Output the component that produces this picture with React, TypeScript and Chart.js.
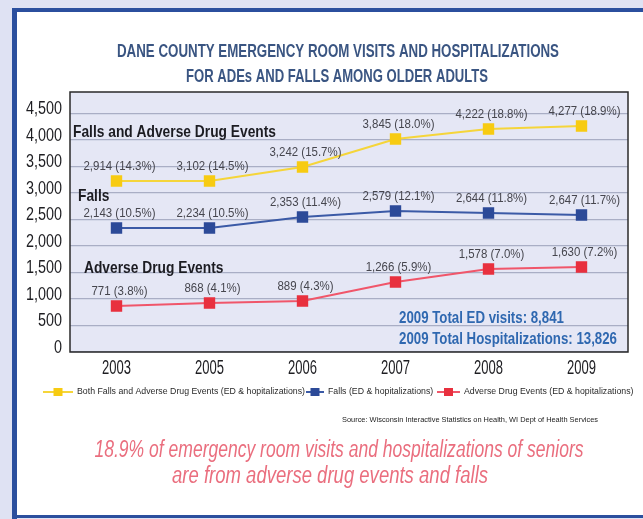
import React, { useEffect, useRef } from "react";
import { Chart, registerables } from "chart.js";

Chart.register(...registerables);

const years = ["2003", "2005", "2006", "2007", "2008", "2009"];
// plotted positions as drawn in the picture
const bothValues = [3223, 3223, 3487, 4014, 4203, 4259];
const fallsValues = [2337, 2337, 2544, 2657, 2620, 2582];
const adeValues = [867, 923, 961, 1319, 1564, 1602];
// printed labels
const bothLabels = ["2,914 (14.3%)", "3,102 (14.5%)", "3,242 (15.7%)", "3,845 (18.0%)", "4,222 (18.8%)", "4,277 (18.9%)"];
const fallsLabels = ["2,143 (10.5%)", "2,234 (10.5%)", "2,353 (11.4%)", "2,579 (12.1%)", "2,644 (11.8%)", "2,647 (11.7%)"];
const adeLabels = ["771 (3.8%)", "868 (4.1%)", "889 (4.3%)", "1,266 (5.9%)", "1,578 (7.0%)", "1,630 (7.2%)"];
const seriesNames = [
  "Both Falls and Adverse Drug Events (ED & hopitalizations)",
  "Falls (ED & hopitalizations)",
  "Adverse Drug Events (ED & hopitalizations)",
];
const yTickValues = [0, 500, 1000, 1500, 2000, 2500, 3000, 3500, 4000, 4500];
const yMax = 4900;
const titleLines = [
  "DANE COUNTY EMERGENCY ROOM VISITS AND HOSPITALIZATIONS",
  "FOR ADEs AND FALLS AMONG OLDER ADULTS",
];
const footerLines = [
  "18.9% of emergency room visits and hospitalizations of seniors",
  "are from adverse drug events and falls",
];
const sourceText = "Source: Wisconsin Interactive Statistics on Health, WI Dept of Health Services";
const captionBoth = "Falls and Adverse Drug Events";
const captionFalls = "Falls";
const captionAde = "Adverse Drug Events";
const totalEd = "2009 Total ED visits: 8,841";
const totalHosp = "2009 Total Hospitalizations: 13,826";

const FONT = "'Liberation Sans', Arial, sans-serif";

const YELLOW = "#f7cb12";
const YELLOW_LINE = "#f5d53a";
const BLUE = "#2c4a98";
const BLUE_LINE = "#3b5aa6";
const RED = "#e8303e";
const RED_LINE = "#f0566a";
const seriesColors = [
  { line: YELLOW_LINE, point: YELLOW },
  { line: BLUE_LINE, point: BLUE },
  { line: RED_LINE, point: RED },
];
const labelSets = [bothLabels, fallsLabels, adeLabels];

// draw text condensed horizontally by factor sx
function narrowText(ctx: CanvasRenderingContext2D, text: string, x: number, y: number, sx: number, align: CanvasTextAlign) {
  ctx.save();
  ctx.translate(x, y);
  ctx.scale(sx, 1);
  ctx.textAlign = align;
  ctx.textBaseline = "middle";
  ctx.fillText(text, 0, 0);
  ctx.restore();
}
// factor so that `sample` is `target` px wide in the current font
function factor(ctx: CanvasRenderingContext2D, sample: string, target: number) {
  return target / ctx.measureText(sample).width;
}

const decorPlugin = {
  id: "decor",
  beforeDraw(chart: any) {
    const { ctx, width, height, chartArea } = chart;
    ctx.save();
    ctx.fillStyle = "#dfe2f3";
    ctx.fillRect(0, 0, width, height);
    ctx.fillStyle = "#ffffff";
    ctx.fillRect(12, 8, width - 12, height - 11);
    ctx.fillStyle = "#2b4f9e";
    ctx.fillRect(12, 8, 5, height - 8);
    ctx.fillRect(12, 8, width - 12, 4);
    ctx.fillRect(12, height - 4, width - 12, 3);
    ctx.fillStyle = "#e5e7f5";
    ctx.fillRect(chartArea.left, chartArea.top, chartArea.right - chartArea.left, chartArea.bottom - chartArea.top);
    // title
    ctx.fillStyle = "#3a5582";
    ctx.font = `bold 18px ${FONT}`;
    narrowText(ctx, titleLines[0], 338, 52, factor(ctx, titleLines[0], 442), "center");
    narrowText(ctx, titleLines[1], 337, 77, factor(ctx, titleLines[1], 302), "center");
    ctx.restore();
  },
  afterDatasetsDraw(chart: any) {
    const { ctx } = chart;
    ctx.save();
    ctx.font = `13px ${FONT}`;
    ctx.fillStyle = "#46464e";
    const f = factor(ctx, bothLabels[0], 72);
    chart.data.datasets.forEach((ds: any, di: number) => {
      const meta = chart.getDatasetMeta(di);
      meta.data.forEach((pt: any, i: number) => {
        narrowText(ctx, labelSets[di][i], pt.x + 3, pt.y - 15, f, "center");
      });
    });
    ctx.restore();
  },
  afterDraw(chart: any) {
    const { ctx, chartArea } = chart;
    const xs = chart.scales.x;
    const ys = chart.scales.y;
    ctx.save();
    // plot border
    ctx.strokeStyle = "#2a2a2a";
    ctx.lineWidth = 1.5;
    ctx.strokeRect(chartArea.left, chartArea.top, chartArea.right - chartArea.left, chartArea.bottom - chartArea.top);
    // y tick labels from the scale
    ctx.fillStyle = "#1e1e22";
    ctx.font = `18px ${FONT}`;
    const fy = factor(ctx, "4,500", 36);
    ys.ticks.forEach((t: any) => {
      narrowText(ctx, Number(t.value).toLocaleString("en-US"), chartArea.left - 8, ys.getPixelForValue(t.value) - 4, fy, "right");
    });
    // x tick labels from the scale
    ctx.font = `20px ${FONT}`;
    const fx = factor(ctx, "2003", 29);
    chart.data.labels.forEach((lab: string, i: number) => {
      narrowText(ctx, lab, xs.getPixelForTick(i), chartArea.bottom + 16, fx, "center");
    });
    // series captions
    ctx.fillStyle = "#1c1c22";
    ctx.font = `bold 17px ${FONT}`;
    const fc = factor(ctx, captionBoth, 203);
    narrowText(ctx, captionBoth, 73, 132, fc, "left");
    narrowText(ctx, captionFalls, 78, 196, fc, "left");
    narrowText(ctx, captionAde, 84, 268, fc, "left");
    // totals
    ctx.fillStyle = "#2f68b0";
    ctx.font = `bold 17px ${FONT}`;
    const ft = factor(ctx, totalHosp, 218);
    narrowText(ctx, totalEd, 399, 318, ft, "left");
    narrowText(ctx, totalHosp, 399, 339, ft, "left");
    // legend
    ctx.font = `9px ${FONT}`;
    const fl = factor(ctx, seriesNames[0], 228);
    const legendPos = [
      { lineX: 43, textX: 77 },
      { lineX: 306, textX: 328 },
      { lineX: 437, textX: 464 },
    ];
    const ly = 392;
    seriesNames.forEach((name, i) => {
      const c = seriesColors[i];
      const p = legendPos[i];
      const lineEnd = p.textX - 4;
      ctx.strokeStyle = c.line;
      ctx.lineWidth = 2;
      ctx.beginPath();
      ctx.moveTo(p.lineX, ly);
      ctx.lineTo(lineEnd, ly);
      ctx.stroke();
      ctx.fillStyle = c.point;
      const mx = (p.lineX + lineEnd) / 2;
      ctx.fillRect(mx - 4.5, ly - 4, 9, 8);
      ctx.fillStyle = "#2a2a2a";
      narrowText(ctx, name, p.textX, ly, fl, "left");
    });
    // source
    ctx.font = `8px ${FONT}`;
    ctx.fillStyle = "#222";
    narrowText(ctx, sourceText, 598, 420, factor(ctx, sourceText, 256), "right");
    // footer
    ctx.fillStyle = "#ea6e7e";
    ctx.font = `italic 23px ${FONT}`;
    narrowText(ctx, footerLines[0], 339, 451, factor(ctx, footerLines[0], 489), "center");
    narrowText(ctx, footerLines[1], 330, 477, factor(ctx, footerLines[1], 316), "center");
    ctx.restore();
  },
};

export default function App() {
  const ref = useRef<HTMLCanvasElement | null>(null);
  useEffect(() => {
    if (!ref.current) return;
    const makeDs = (label: string, data: number[], c: { line: string; point: string }) => ({
      label,
      data,
      borderColor: c.line,
      backgroundColor: c.point,
      pointBackgroundColor: c.point,
      pointBorderColor: c.point,
      pointStyle: "rect",
      pointRadius: 6.5,
      borderWidth: 2.2,
      tension: 0,
    });
    const chart = new Chart(ref.current, {
      type: "line",
      data: {
        labels: years,
        datasets: [
          makeDs(seriesNames[0], bothValues, seriesColors[0]),
          makeDs(seriesNames[1], fallsValues, seriesColors[1]),
          makeDs(seriesNames[2], adeValues, seriesColors[2]),
        ],
      },
      options: {
        animation: false,
        responsive: false,
        devicePixelRatio: 1,
        layout: { padding: { top: 92, left: 17, right: 15, bottom: 137 } },
        plugins: { legend: { display: false }, tooltip: { enabled: false }, title: { display: false } },
        scales: {
          x: {
            offset: true,
            grid: { display: false, drawTicks: false },
            border: { display: false },
            ticks: { display: false },
            afterFit: (s: any) => { s.height = 30; },
          },
          y: {
            min: 0,
            max: yMax,
            ticks: { display: false },
            afterBuildTicks: (s: any) => {
              s.ticks = yTickValues.map((v) => ({ value: v }));
            },
            grid: { color: "#a9aec5", lineWidth: 1.2, drawTicks: false },
            border: { display: false },
            afterFit: (s: any) => { s.width = 53; },
          },
        },
      },
      plugins: [decorPlugin],
    });
    return () => chart.destroy();
  }, []);
  return (
    <div style={{ position: "fixed", left: 0, top: 0, width: 643, height: 519 }}>
      <canvas ref={ref} width={643} height={519} style={{ display: "block" }} />
    </div>
  );
}
